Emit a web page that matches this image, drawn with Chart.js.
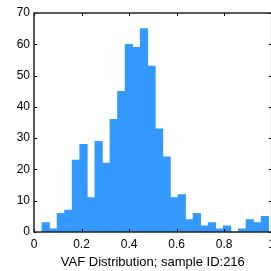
<!DOCTYPE html>
<html>
<head>
<meta charset="utf-8">
<script src="https://cdn.jsdelivr.net/npm/chart.js@4"></script>
<style>
    html, body { margin: 0; padding: 0; overflow: hidden; background: #fff; }
    #wrap { width: 280px; height: 271px; }
</style>
</head>
<body>
<div id="wrap"><canvas id="hist"></canvas></div>
<script>
// histogram bins (30 bins), counts
const binStart = 0.0334;
const binWidth = 0.0318;
const counts = [3, 1, 6, 7, 23, 28, 11, 29, 22, 36, 45, 60, 59, 65, 53,
                33, 24, 11, 12, 4, 6, 2, 3, 1, 2, 0, 1, 4, 3, 5];
const xTicks = [0, 0.2, 0.4, 0.6, 0.8, 1];
const yTicks = [0, 10, 20, 30, 40, 50, 60, 70];
const xLabel = 'VAF Distribution; sample ID:216';

const binCenters = counts.map((_, i) => binStart + (i + 0.5) * binWidth);

// matlab-style box with inward ticks
const boxPlugin = {
    id: 'box',
    afterDatasetsDraw(chart) {
        const ctx = chart.ctx;
        const a = chart.chartArea;
        const xs = chart.scales.x;
        const ys = chart.scales.y;
        const len = 3;
        ctx.save();
        ctx.strokeStyle = '#000';
        ctx.lineWidth = 1;
        ctx.beginPath();
        xTicks.forEach(v => {
            const px = Math.round(xs.getPixelForValue(v)) + 0.5;
            ctx.moveTo(px, a.bottom);
            ctx.lineTo(px, a.bottom - len);
            ctx.moveTo(px, a.top);
            ctx.lineTo(px, a.top + len);
        });
        yTicks.forEach(v => {
            const py = Math.round(ys.getPixelForValue(v)) + 0.5;
            ctx.moveTo(a.left, py);
            ctx.lineTo(a.left + len, py);
            ctx.moveTo(a.right, py);
            ctx.lineTo(a.right - len, py);
        });
        ctx.stroke();
        ctx.strokeStyle = '#222';
        ctx.lineWidth = 1.5;
        ctx.strokeRect(a.left, a.top, a.right - a.left, a.bottom - a.top);
        ctx.restore();
    }
};

new Chart(document.getElementById('hist'), {
    type: 'bar',
    data: {
        datasets: [{
            data: binCenters.map((x, i) => ({ x: x, y: counts[i] })),
            backgroundColor: '#3399ff',
            borderWidth: 0,
            barPercentage: 1,
            categoryPercentage: 1
        }]
    },
    options: {
        responsive: true,
        maintainAspectRatio: false,
        animation: false,
        layout: { padding: { top: 13, right: 8, left: 0, bottom: 0 } },
        plugins: {
            legend: { display: false },
            tooltip: { enabled: false }
        },
        scales: {
            x: {
                type: 'linear',
                min: 0,
                max: 1,
                offset: false,
                grid: { display: false, drawTicks: false },
                border: { display: false },
                afterBuildTicks: (scale) => { scale.ticks = xTicks.map(v => ({ value: v })); },
                afterFit: (scale) => { scale.height = 39; },
                ticks: {
                    color: '#000',
                    padding: 5,
                    maxRotation: 0,
                    font: { family: 'Liberation Sans, Arial, sans-serif', size: 12 },
                    callback: (v) => String(v)
                },
                title: {
                    display: true,
                    text: xLabel,
                    color: '#000',
                    padding: { top: 2, bottom: 1 },
                    font: { family: 'Liberation Sans, Arial, sans-serif', size: 13 }
                }
            },
            y: {
                min: 0,
                max: 70,
                grid: { display: false, drawTicks: false },
                border: { display: false },
                afterFit: (scale) => { scale.width = 34; },
                ticks: {
                    stepSize: 10,
                    color: '#000',
                    padding: 4,
                    font: { family: 'Liberation Sans, Arial, sans-serif', size: 12 }
                }
            }
        }
    },
    plugins: [boxPlugin]
});
</script>
</body>
</html>
